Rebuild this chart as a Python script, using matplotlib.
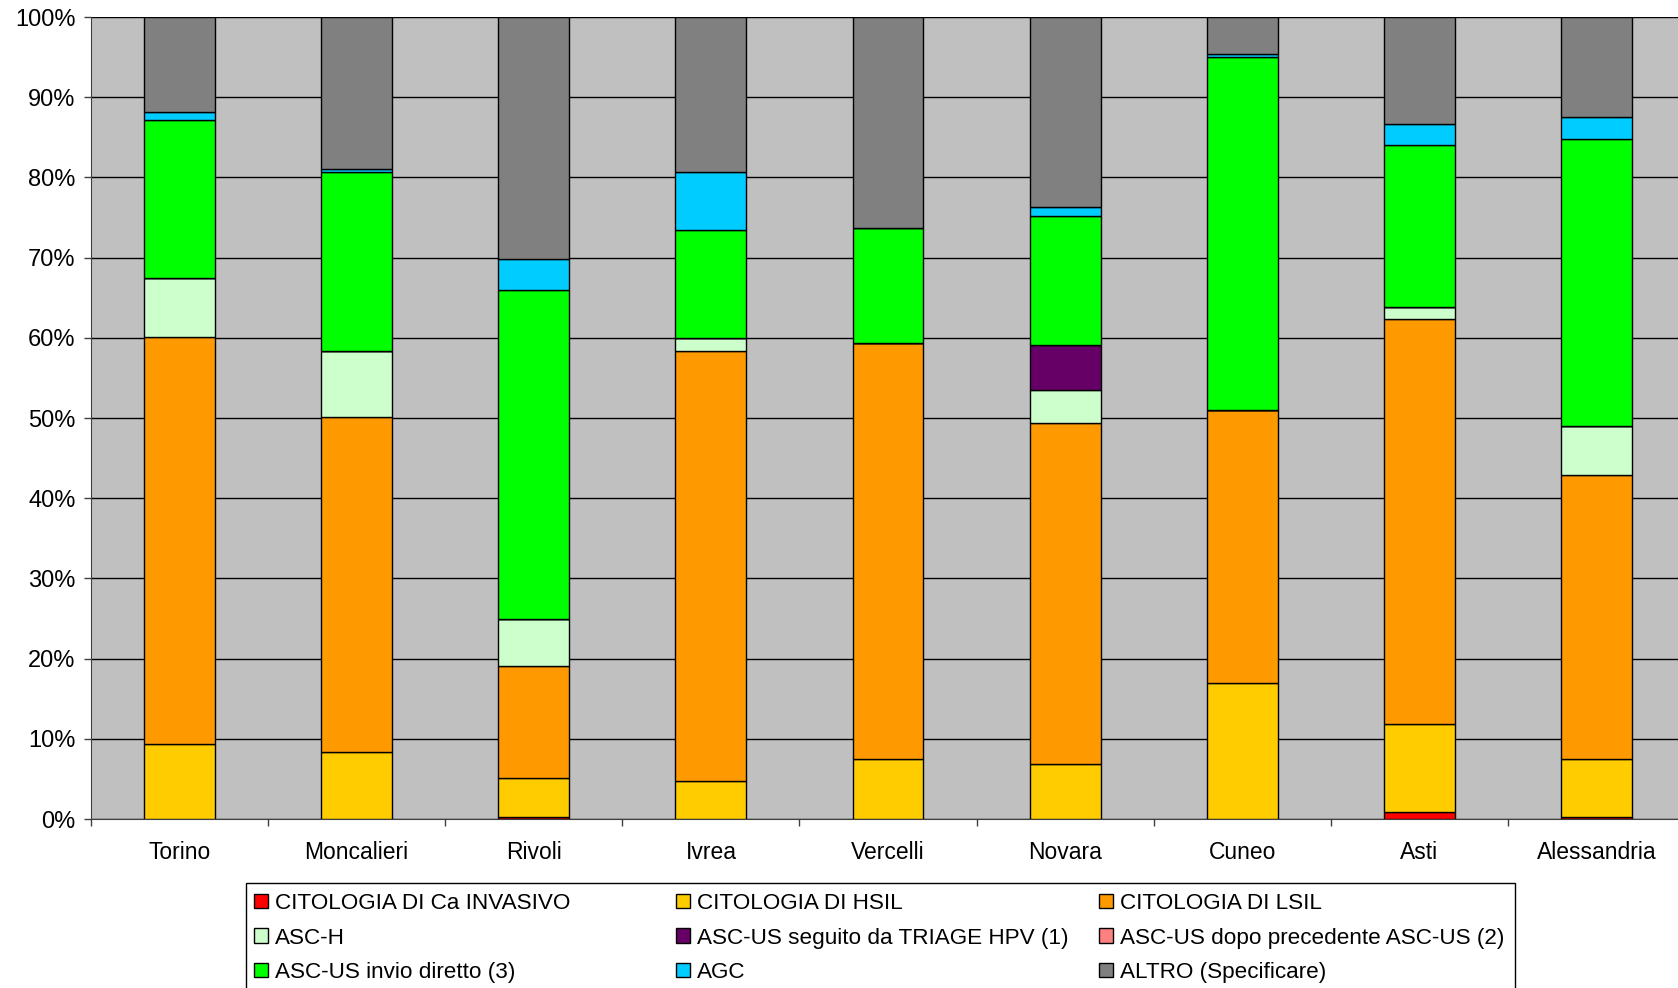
import numpy as np
import matplotlib
matplotlib.use("Agg")
import matplotlib.pyplot as plt
from matplotlib.patches import Rectangle
from matplotlib.ticker import FuncFormatter, MultipleLocator

plt.rcParams["font.family"] = ["Liberation Sans", "DejaVu Sans"]

sites = ["Torino", "Moncalieri", "Rivoli", "Ivrea", "Vercelli",
         "Novara", "Cuneo", "Asti", "Alessandria"]

# percentages per site
ca_invasivo = [0.0, 0.0, 0.2, 0.0, 0.0, 0.0, 0.0, 0.9, 0.2]
hsil = [9.4, 8.3, 4.9, 4.8, 7.5, 6.8, 17.0, 10.9, 7.3]
lsil = [50.7, 41.8, 13.9, 53.5, 51.9, 42.6, 34.0, 50.5, 35.4]
asc_h = [7.4, 8.2, 5.9, 1.7, 0.0, 4.1, 0.0, 1.6, 6.1]
triage_hpv = [0.0, 0.0, 0.0, 0.0, 0.0, 5.6, 0.0, 0.0, 0.0]
dopo_ascus = [0.0, 0.0, 0.0, 0.0, 0.0, 0.0, 0.0, 0.0, 0.0]
invio_diretto = [19.6, 22.4, 41.0, 13.5, 14.3, 16.1, 44.0, 20.2, 35.8]
agc = [1.0, 0.3, 3.8, 7.2, 0.0, 1.1, 0.4, 2.5, 2.7]
altro = [11.9, 19.0, 30.2, 19.3, 26.3, 23.7, 4.6, 13.4, 12.5]

series = [
    ("CITOLOGIA DI Ca INVASIVO", ca_invasivo, "#FF0000"),
    ("CITOLOGIA DI HSIL", hsil, "#FFCC00"),
    ("CITOLOGIA DI LSIL", lsil, "#FF9900"),
    ("ASC-H", asc_h, "#CCFFCC"),
    ("ASC-US seguito da TRIAGE HPV (1)", triage_hpv, "#660066"),
    ("ASC-US dopo precedente ASC-US (2)", dopo_ascus, "#FF8080"),
    ("ASC-US invio diretto (3)", invio_diretto, "#00FF00"),
    ("AGC", agc, "#00CCFF"),
    ("ALTRO (Specificare)", altro, "#808080"),
]

W, H = 1678, 988
fig = plt.figure(figsize=(W / 100, H / 100), dpi=100)
ax = fig.add_axes([91 / W, 1 - 819 / H, (1685 - 91) / W, (819 - 17) / H])
ax.set_facecolor("#C0C0C0")

x = np.arange(len(sites))
data = np.array([s[1] for s in series], dtype=float)
pct = data / data.sum(axis=0) * 100  # each bar sums to 100%

handles = []
bottom = np.zeros(len(sites))
for (name, _, color), vals in zip(series, pct):
    b = ax.bar(x, vals, 0.4, bottom=bottom, color=color,
               edgecolor="black", linewidth=1.0, zorder=3)
    handles.append(b)
    bottom += vals

ax.set_xlim(-0.5, len(sites) - 0.5)
ax.set_ylim(0, 100)
ax.yaxis.set_major_locator(MultipleLocator(10))
ax.yaxis.set_major_formatter(FuncFormatter(lambda v, _: f"{int(round(v))}%"))
ax.grid(True, axis="y", color="black", linewidth=1.0, zorder=1)
ax.set_axisbelow(True)

ax.set_xticks(x)
ax.set_xticklabels(sites)
ax.set_xticks(np.arange(len(sites) + 1) - 0.5, minor=True)
ax.tick_params(axis="x", which="major", length=0, pad=16, labelsize=16.5)
ax.tick_params(axis="x", which="minor", length=5, width=1, color="#404040")
ax.tick_params(axis="y", length=5, width=1, color="#404040", pad=6, labelsize=17)

for side in ["top", "right"]:
    ax.spines[side].set_visible(False)
ax.spines["left"].set_color("#404040")
ax.spines["bottom"].set_color("#404040")

# legend: white box with three equal-width columns, filled row by row
fig.patches.append(Rectangle((246 / W, -0.05), (1515 - 246) / W, 0.05 + (988 - 883) / H,
                             transform=fig.transFigure, facecolor="white",
                             edgecolor="black", linewidth=1.0, zorder=5))
names = [s[0] for s in series]
col_x = [254, 676, 1099]
for c in range(3):
    idx = [c, c + 3, c + 6]
    leg = fig.legend([handles[i] for i in idx], [names[i] for i in idx],
                     loc="upper left", bbox_to_anchor=(col_x[c] / W, 1 - 893 / H),
                     fontsize=16.2, frameon=False,
                     handlelength=0.6, handleheight=0.6, handletextpad=0.35,
                     labelspacing=0.6, borderpad=0, borderaxespad=0)
    leg.set_zorder(6)

fig.savefig("out.png", dpi=100)
